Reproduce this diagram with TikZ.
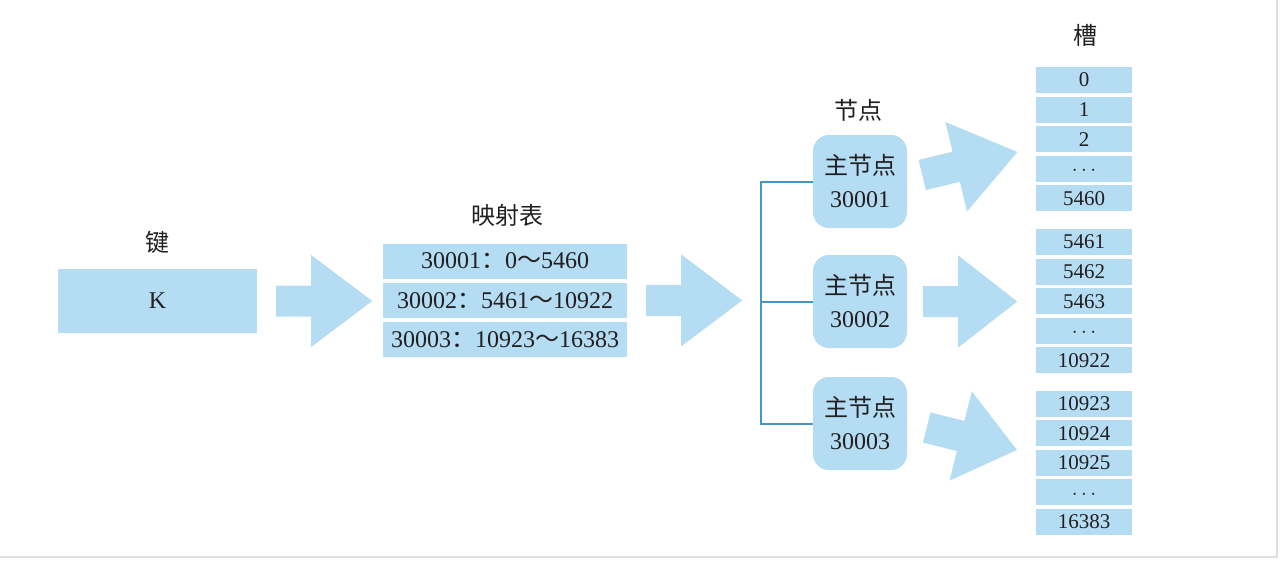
\documentclass[tikz,border=0pt]{standalone}
\usepackage{fontspec}
\setmainfont{Liberation Serif}
\newfontfamily\cjk{Noto Sans CJK SC}
\usetikzlibrary{calc}
\usetikzlibrary{positioning}

\definecolor{boxblue}{RGB}{180,220,242}
\definecolor{linkblue}{RGB}{72,150,200}
\definecolor{inkgray}{RGB}{35,31,32}

% wide flat arrow: start point, angle, length
\newcommand{\blockarrow}[3]{%
  \fill[boxblue, shift={#1}, rotate=#2]
    (0,-15.5) -- (35,-15.5) -- (35,-46) -- (#3,0) -- (35,46) -- (35,15.5) -- (0,15.5) -- cycle;
}
\newcommand{\slotdots}{\vphantom{0}$\cdots$}

\begin{document}
\begin{tikzpicture}[x=1pt, y=-1pt,
  every node/.style={font=\fontsize{24}{28}\selectfont, text=inkgray},
  keybox/.style={fill=boxblue, minimum width=199pt, minimum height=64pt, inner sep=0pt},
  maprow/.style={fill=boxblue, minimum width=244pt, minimum height=35pt, inner sep=0pt},
  nodebox/.style={fill=boxblue, rounded corners=16pt, minimum width=94pt, minimum height=93pt,
    inner sep=0pt, align=center, font=\fontsize{24}{33}\selectfont},
  slotbox/.style={fill=boxblue, minimum width=96pt, minimum height=26pt, inner sep=0pt,
    font=\fontsize{21}{22}\selectfont},
  link/.style={linkblue, line width=2pt}]
  \useasboundingbox (0,0) rectangle (1280,560);
  \draw[gray!25, line width=1.5pt] (1277,0) -- (1277,557) -- (0,557);

  % key
  \node (keylabel) at (157,242) {\cjk 键};
  \node[keybox] (keybox) at (157.5,301) {K};

  % mapping table
  \node (maplabel) at (507,215) {\cjk 映射表};
  \node[maprow] (map1) at (505,261) {30001{\cjk ：}0{\cjk ～}5460};
  \node[maprow, below=4pt of map1] (map2) {30002{\cjk ：}5461{\cjk ～}10922};
  \node[maprow, below=4pt of map2] (map3) {30003{\cjk ：}10923{\cjk ～}16383};

  \blockarrow{($(keybox.east)+(19,0)$)}{0}{96}
  \blockarrow{($(map2.east)+(19,0)$)}{0}{96}

  % master nodes
  \node (nodelabel) at (858,110) {\cjk 节点};
  \node[nodebox] (n1) at (860,181.5) {{\cjk 主节点}\\30001};
  \node[nodebox] (n2) at (860,301.5) {{\cjk 主节点}\\30002};
  \node[nodebox] (n3) at (860,423.5) {{\cjk 主节点}\\30003};

  \draw[link] (n1.west) -- ++(-52,0) coordinate (bus) |- (n3.west);
  \draw[link] (n2.west) -- (n2.west -| bus);

  \blockarrow{($(n1.east)+(15,-6.5)$)}{13.6}{98}
  \blockarrow{($(n2.east)+(16,0)$)}{0}{94}
  \blockarrow{($(n3.east)+(19.5,4)$)}{-14}{93}

  % slots
  \node (slotlabel) at (1085,35) {\cjk 槽};
  \foreach \lab [count=\i] in {0,1,2,\slotdots,5460}
    \node[slotbox] (sa-\i) at (1084,{80+29.6*(\i-1)}) {\lab};
  \foreach \lab [count=\i] in {5461,5462,5463,\slotdots,10922}
    \node[slotbox] (sb-\i) at (1084,{242+29.6*(\i-1)}) {\lab};
  \foreach \lab [count=\i] in {10923,10924,10925,\slotdots,16383}
    \node[slotbox] (sc-\i) at (1084,{404+29.4*(\i-1)}) {\lab};
\end{tikzpicture}
\end{document}
